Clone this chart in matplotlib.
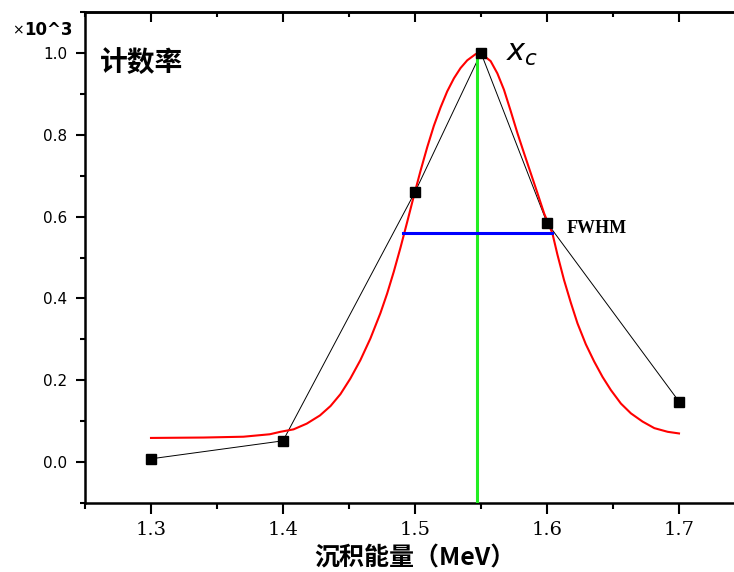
import matplotlib
matplotlib.use("Agg")
import matplotlib.pyplot as plt
from matplotlib.ticker import MultipleLocator

# measured points (counts, x10^3)
energy = [1.30, 1.40, 1.50, 1.55, 1.60, 1.70]
counts = [0.008, 0.052, 0.66, 1.0, 0.585, 0.148]

# gaussian fit curve
fit_x = [1.300, 1.340, 1.370, 1.390, 1.398, 1.408, 1.418, 1.428, 1.436,
         1.4435, 1.451, 1.4586, 1.4662, 1.4738, 1.4789, 1.4839, 1.489,
         1.4941, 1.4991, 1.5042, 1.5093, 1.5143, 1.5194, 1.5244, 1.5295,
         1.5345, 1.5396, 1.5459, 1.5472, 1.5522, 1.5573, 1.5624, 1.5674,
         1.5725, 1.5776, 1.5826, 1.5877, 1.5928, 1.5978, 1.6041, 1.6079,
         1.6129, 1.618, 1.6231, 1.6294, 1.6357, 1.6421, 1.6484, 1.656,
         1.6636, 1.6724, 1.6813, 1.6914, 1.700]
fit_y = [0.059, 0.060, 0.062, 0.068, 0.074, 0.080, 0.094, 0.114, 0.137,
         0.166, 0.204, 0.249, 0.302, 0.364, 0.412, 0.465, 0.524,
         0.587, 0.650, 0.712, 0.770, 0.822, 0.867, 0.906, 0.938,
         0.963, 0.982, 0.997, 0.998, 0.993, 0.980, 0.950, 0.910,
         0.858, 0.804, 0.755, 0.706, 0.657, 0.608, 0.559, 0.507,
         0.445, 0.390, 0.339, 0.288, 0.246, 0.208, 0.176, 0.143,
         0.119, 0.099, 0.083, 0.074, 0.070]

peak_x = 1.547
fwhm_left, fwhm_right, half_y = 1.491, 1.604, 0.56

cjk = ["Noto Sans CJK SC", "DejaVu Sans"]

fig = plt.figure(figsize=(7.34, 5.72), dpi=100)
ax = fig.add_axes([85 / 734, 69 / 572, 660 / 734, 491 / 572])

ax.plot(energy, counts, color="black", lw=0.7, zorder=2)
ax.plot(fit_x, fit_y, color="red", lw=1.5, zorder=3)
ax.plot([peak_x, peak_x], [-0.1, 1.0], color="#22ee22", lw=2.2, zorder=4)
ax.plot([fwhm_left, fwhm_right], [half_y, half_y], color="blue", lw=2.2, zorder=4)
ax.plot(energy, counts, "s", color="black", ms=7, zorder=5)

ax.set_xlim(1.25, 1.75)
ax.set_ylim(-0.1, 1.1)

ax.xaxis.set_minor_locator(MultipleLocator(0.05))
ax.yaxis.set_minor_locator(MultipleLocator(0.1))
ax.set_xticks([1.3, 1.4, 1.5, 1.6, 1.7])
ax.set_yticks([0.0, 0.2, 0.4, 0.6, 0.8, 1.0])
ax.set_xticklabels(["1.3", "1.4", "1.5", "1.6", "1.7"],
                   family="DejaVu Serif", fontsize=14)
ax.set_yticklabels(["0.0", "0.2", "0.4", "0.6", "0.8", "1.0"],
                   family="DejaVu Sans", fontsize=11)

ax.tick_params(axis="x", which="major", direction="out", length=8, width=1.5, pad=5,
               top=False)
ax.tick_params(axis="x", which="minor", direction="out", length=4.5, width=1.5, top=False)
ax.tick_params(axis="y", which="major", direction="out", length=6.5, width=1.5, pad=6.5,
               right=False)
ax.tick_params(axis="y", which="minor", direction="out", length=3.5, width=1.5, right=False)

# inward ticks along the top spine
top = ax.secondary_xaxis("top")
top.set_xticks([1.3, 1.4, 1.5, 1.6, 1.7])
top.xaxis.set_minor_locator(MultipleLocator(0.05))
top.tick_params(which="major", direction="in", length=7, width=1.5, labeltop=False)
top.tick_params(which="minor", direction="in", length=3.6, width=1.5)
top.spines["top"].set_linewidth(1.8)

for s in ["left", "bottom", "top"]:
    ax.spines[s].set_linewidth(1.8)
ax.spines["right"].set_visible(False)

ax.set_xlabel("沉积能量（MeV）", family=cjk, fontweight="bold", fontsize=18,
              labelpad=5)

ax.text(0.023, 1.007, "计数率", transform=ax.get_yaxis_transform(), family=cjk,
        fontweight="bold", fontsize=20, va="top")
fig.text(12 / 734, 1 - 30 / 572, "×", family="DejaVu Sans", fontsize=10,
         va="center")
fig.text(24 / 734, 1 - 30 / 572, "10^3", family="DejaVu Sans", fontsize=12,
         fontweight="bold", va="center")
ax.text(1.569, 1.0, r"$x_c$", family="serif", fontsize=22, va="center")
ax.text(1.615, 0.57, "FWHM", family="Liberation Serif", fontweight="bold",
        fontsize=13, va="center")

fig.savefig("out.png", dpi=100)
